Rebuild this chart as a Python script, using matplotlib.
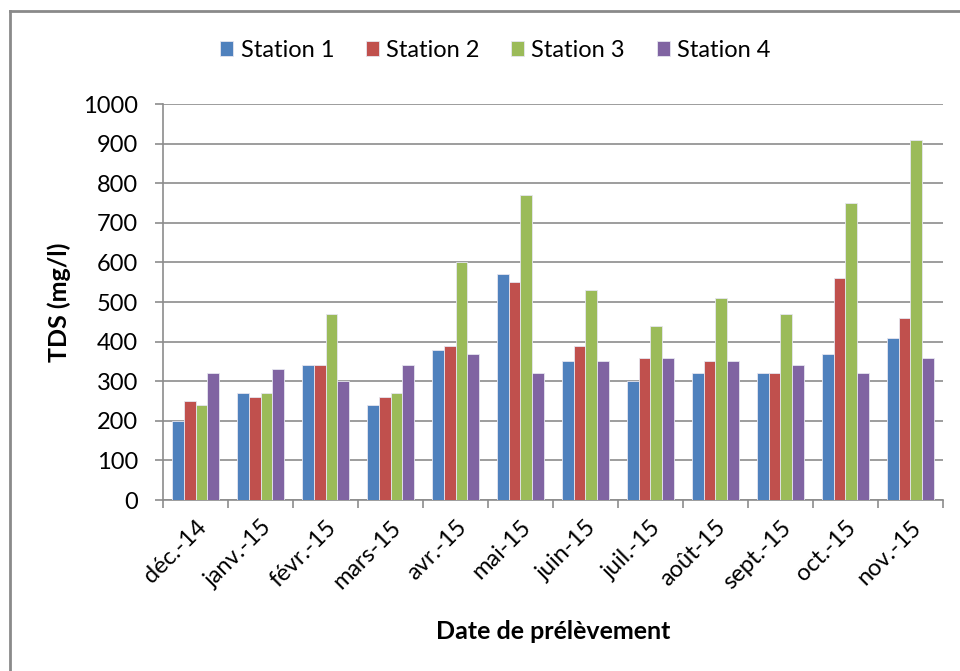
import matplotlib.pyplot as plt
import numpy as np

months = ['déc.-14', 'janv.-15', 'févr.-15', 'mars-15', 'avr.-15', 'mai-15',
          'juin-15', 'juil.-15', 'août-15', 'sept.-15', 'oct.-15', 'nov.-15']
station1 = [200, 270, 340, 240, 380, 570, 350, 300, 320, 320, 370, 410]
station2 = [250, 260, 340, 260, 390, 550, 390, 360, 350, 320, 560, 460]
station3 = [240, 270, 470, 270, 600, 770, 530, 440, 510, 470, 750, 910]
station4 = [320, 330, 300, 340, 370, 320, 350, 360, 350, 340, 320, 360]
series = [station1, station2, station3, station4]
names = ['Station 1', 'Station 2', 'Station 3', 'Station 4']
colors = ['#4F81BD', '#C0504D', '#9BBB59', '#8064A2']

plt.rcParams['font.family'] = ['Lato', 'DejaVu Sans']

fig = plt.figure(figsize=(9.6, 6.71), dpi=100)
ax = fig.add_axes([0.170, 0.2548, 0.812, 0.590])

x = np.arange(len(months))
w = 0.18
for i, (vals, name, c) in enumerate(zip(series, names, colors)):
    ax.bar(x + (i - 1.5) * w, vals, width=w, color=c, label=name,
           edgecolor='#e6e6f0', linewidth=0.6, zorder=3)

ax.set_xlim(-0.5, len(months) - 0.5)
ax.set_ylim(0, 1000)
ax.set_yticks(np.arange(0, 1001, 100))
ax.yaxis.grid(True, color='#8c8c8c', linewidth=1.2, zorder=0)

# category boundaries carry the tick marks, labels sit at centres
ax.set_xticks(np.arange(-0.5, len(months), 1))
ax.set_xticklabels([])
ax.set_xticks(x, minor=True)
ax.set_xticklabels(months, minor=True, rotation=45, ha='right',
                   rotation_mode='anchor', fontsize=17)
ax.tick_params(axis='x', which='minor', length=0, pad=12)
ax.tick_params(axis='x', which='major', length=6, color='#8c8c8c', width=1.2)
ax.tick_params(axis='y', length=6, color='#8c8c8c', width=1.2, labelsize=17, pad=12)

for side in ['top', 'right']:
    ax.spines[side].set_visible(False)
for side in ['left', 'bottom']:
    ax.spines[side].set_color('#8c8c8c')
    ax.spines[side].set_linewidth(1.2)

ax.set_ylabel('TDS (mg/l)', fontsize=18, fontweight='bold')
ax.yaxis.set_label_coords(-0.118, 0.5)
ax.set_xlabel('Date de prélèvement', fontsize=18, fontweight='bold')
ax.xaxis.set_label_coords(0.5, -(620 - 500) / 396)

fig.legend(loc='center', bbox_to_anchor=(0.516, 0.925), ncol=4, frameon=False,
           fontsize=17, handlelength=0.55, handleheight=0.55, handletextpad=0.3,
           columnspacing=1.35)

# outer chart frame
fig.add_artist(plt.Line2D([10 / 960, 10 / 960], [0, 1 - 11 / 671],
                          transform=fig.transFigure, color='#8a8a8a', linewidth=2))
fig.add_artist(plt.Line2D([10 / 960, 1], [1 - 11 / 671, 1 - 11 / 671],
                          transform=fig.transFigure, color='#8a8a8a', linewidth=2))

fig.savefig('out.png', dpi=100)
